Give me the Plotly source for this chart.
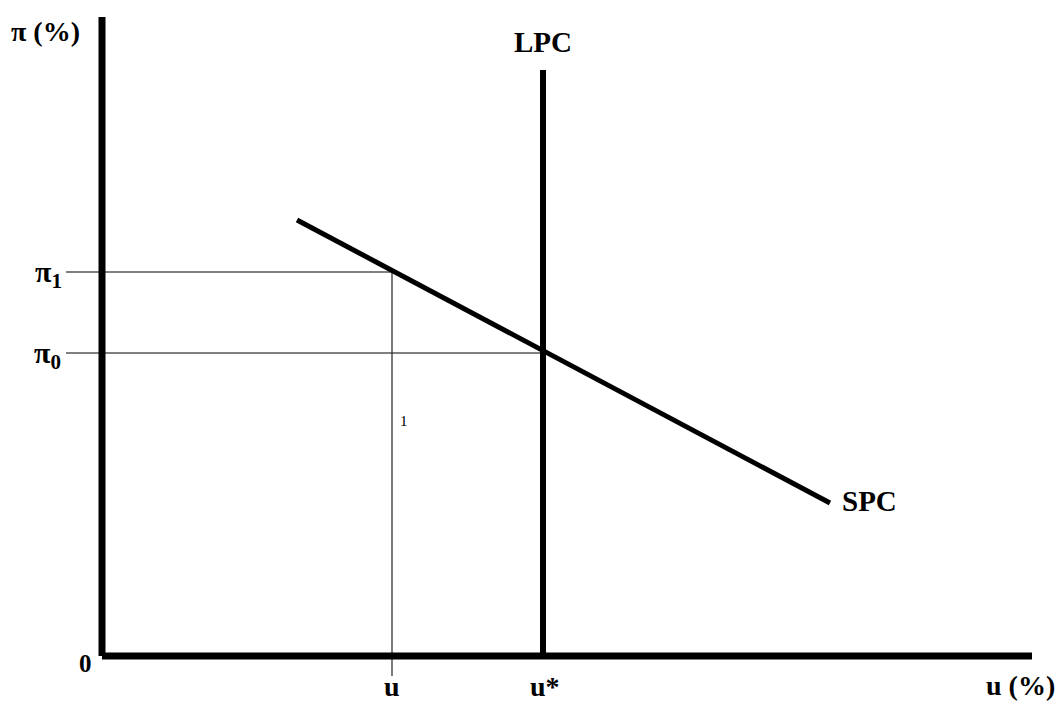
import plotly.graph_objects as go

# Phillips curve diagram, units: u (%) horizontal, pi (%) vertical
axis_x_end = 9.27
axis_y_end = 6.36

u_1 = 2.87        # u
u_star = 4.38     # u*
pi_1 = 3.81
pi_0 = 3.00
lpc_top = 5.83

spc_u = [1.92, 7.25]
spc_pi = [4.33, 1.50]

tick_start = -0.39   # guide lines start left of the y axis
u_guide_bottom = -0.23

FONT = "Liberation Serif"

fig = go.Figure()

def line(x, y, width, color="black"):
    fig.add_trace(go.Scatter(x=x, y=y, mode="lines", hoverinfo="skip",
                             line=dict(color=color, width=width), showlegend=False))

# thin guide lines
line([tick_start, u_1], [pi_1, pi_1], 1, "black")
line([tick_start, u_star], [pi_0, pi_0], 1, "black")
line([u_1, u_1], [pi_1, u_guide_bottom], 1.2, "#222")

# axes
line([-0.03, -0.03], [-0.03, axis_y_end], 7)
line([-0.03, axis_x_end], [-0.03, -0.03], 7)

# LPC and SPC
line([u_star, u_star], [0, lpc_top], 6)
line(spc_u, spc_pi, 5)

labels = [
    (-0.60, 6.22, "<b>π (%)</b>", 28, "center"),
    (-0.41, 3.79, "<b>π<sub>1</sub></b>", 30, "right"),
    (-0.42, 2.98, "<b>π<sub>0</sub></b>", 30, "right"),
    (-0.20, -0.10, "<b>0</b>", 25, "center"),
    (u_1, -0.33, "<b>u</b>", 28, "center"),
    (u_star + 0.02, -0.33, "<b>u*</b>", 28, "center"),
    (9.15, -0.32, "<b>u (%)</b>", 28, "center"),
    (u_star, 6.11, "<b>LPC</b>", 29, "center"),
    (7.64, 1.52, "<b>SPC</b>", 29, "center"),
    (2.99, 2.32, "1", 15, "center"),
]
for x, y, t, s, anc in labels:
    fig.add_annotation(x=x, y=y, text=t, showarrow=False, xanchor=anc, yanchor="middle",
                       font=dict(family=FONT, size=s, color="black"))

fig.update_layout(
    width=1059, height=702,
    margin=dict(l=0, r=0, t=0, b=0),
    paper_bgcolor="white", plot_bgcolor="white",
    xaxis=dict(range=[-1.05, 9.54], visible=False),
    yaxis=dict(range=[-0.49, 6.53], visible=False),
)

fig.write_html("out.html", config={"displayModeBar": False},
               post_script="document.body.style.margin='0';")
